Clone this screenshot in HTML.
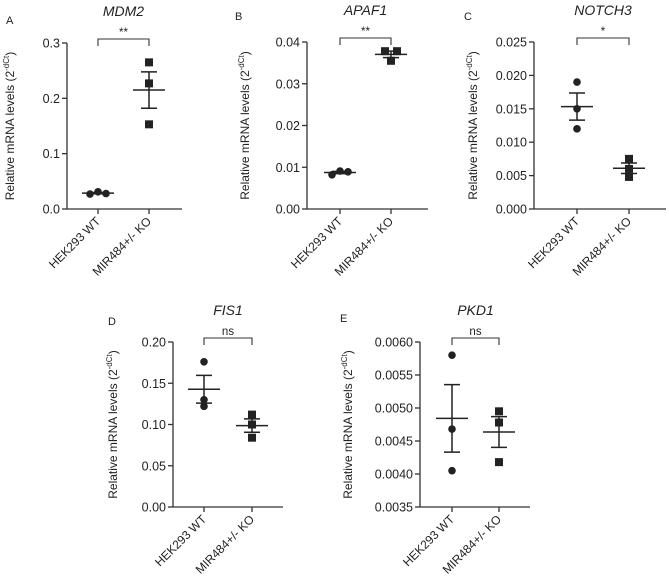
<!DOCTYPE html>
<html><head><meta charset="utf-8"><style>
body{margin:0;background:#fff;}
svg{display:block;font-family:"Liberation Sans",Arial,sans-serif;}
</style></head><body>
<svg id="fig" width="669" height="582" viewBox="0 0 669 582" xmlns="http://www.w3.org/2000/svg"></svg>
<script>
const categories = ["HEK293 WT","MIR484+/- KO"];
const mdm2Wt = [0.027,0.031,0.028], mdm2Ko = [0.265,0.227,0.153];
const apaf1Wt = [0.0082,0.0091,0.0089], apaf1Ko = [0.0378,0.0355,0.0378];
const notch3Wt = [0.019,0.015,0.012], notch3Ko = [0.0075,0.006,0.0048];
const fis1Wt = [0.176,0.130,0.122], fis1Ko = [0.112,0.100,0.084];
const pkd1Wt = [0.0058,0.00468,0.00405], pkd1Ko = [0.00495,0.00478,0.00418];
const mdm2Ticks = ["0.0","0.1","0.2","0.3"];
const apaf1Ticks = ["0.00","0.01","0.02","0.03","0.04"];
const notch3Ticks = ["0.000","0.005","0.010","0.015","0.020","0.025"];
const fis1Ticks = ["0.00","0.05","0.10","0.15","0.20"];
const pkd1Ticks = ["0.0035","0.0040","0.0045","0.0050","0.0055","0.0060"];
const sigLabels = ["**","**","*","ns","ns"];

const svg = document.getElementById('fig');
const NS = "http://www.w3.org/2000/svg";
function mk(tag, attrs, parent){const e=document.createElementNS(NS,tag);for(const k in attrs)e.setAttribute(k,attrs[k]);(parent||svg).appendChild(e);return e;}
function stats(a){const m=a.reduce((s,v)=>s+v,0)/a.length;const sd=Math.sqrt(a.reduce((s,v)=>s+(v-m)*(v-m),0)/(a.length-1));return [m,sd/Math.sqrt(a.length)];}

const panels = [
 {id:"a",letter:"A",title:"MDM2",lx:6,ly:24,ax:67,right:182,top:43,bot:209,c:[98,149],ticks:mdm2Ticks,wt:mdm2Wt,ko:mdm2Ko,yt:14,jw:[-8,0,8],jk:[0,0,0]},
 {id:"b",letter:"B",title:"APAF1",lx:235,ly:20,ax:307,right:428,top:42,bot:209,c:[340,391],ticks:apaf1Ticks,wt:apaf1Wt,ko:apaf1Ko,yt:249,jw:[-8,0,8],jk:[-6,0,6]},
 {id:"c",letter:"C",title:"NOTCH3",lx:464,ly:20,ax:534,right:666,top:42,bot:209,c:[577,629],ticks:notch3Ticks,wt:notch3Wt,ko:notch3Ko,yt:477,jw:[0,0,0],jk:[0,0,0]},
 {id:"d",letter:"D",title:"FIS1",lx:108,ly:325,ax:173,right:283,top:342,bot:507,c:[204,252],ticks:fis1Ticks,wt:fis1Wt,ko:fis1Ko,yt:117,jw:[0,0,0],jk:[0,0,0]},
 {id:"e",letter:"E",title:"PKD1",lx:340,ly:322,ax:420,right:530,top:342,bot:507,c:[452,499],ticks:pkd1Ticks,wt:pkd1Wt,ko:pkd1Ko,yt:352,jw:[0,0,0],jk:[0,0,0]}
];

panels.forEach((p,pi)=>{
  const g = mk('g',{});
  
  
  const tv = p.ticks.map(Number);
  const ymin=tv[0], ymax=tv[tv.length-1];
  const y = v => p.bot - (v-ymin)/(ymax-ymin)*(p.bot-p.top);
  const col="#333";
  const lt = mk('text',{x:p.lx,y:p.ly,'font-size':11,fill:'#222'},g); lt.textContent=p.letter;
  
  
  const tt = mk('text',{x:(p.c[0]+p.c[1])/2,y:p.top-27,'font-size':14,'font-style':'italic','text-anchor':'middle',fill:'#222'},g); tt.textContent=p.title;
  
  
  const ya = mk('line',{x1:p.ax,y1:p.top,x2:p.ax,y2:p.bot,stroke:col,'stroke-width':1.3},g);
  
  
  const xa = mk('line',{x1:p.ax,y1:p.bot,x2:p.right,y2:p.bot,stroke:col,'stroke-width':1.3},g);
  
  
  p.ticks.forEach((t,i)=>{
    const yy=y(tv[i]);
    mk('line',{x1:p.ax-5,y1:yy,x2:p.ax,y2:yy,stroke:col,'stroke-width':1.3},g);
    const tl=mk('text',{x:p.ax-7,y:yy+4.5,'font-size':12.5,'text-anchor':'end',fill:'#222'},g); tl.textContent=t;
    
    
  });
  const ym=(p.top+p.bot)/2;
  const yt=mk('text',{x:p.yt,y:ym,'font-size':12,'text-anchor':'middle',fill:'#222',transform:`rotate(-90 ${p.yt} ${ym})`},g);
  yt.innerHTML='Relative mRNA levels (2<tspan font-size="8" dy="-5">-dCt</tspan><tspan dy="5">)</tspan>';
  
  
  categories.forEach((c,i)=>{
    const cx=p.c[i];
    mk('line',{x1:cx,y1:p.bot,x2:cx,y2:p.bot+5,stroke:col,'stroke-width':1.3},g);
    const cl=mk('text',{x:cx+3,y:p.bot+13,'font-size':12,'text-anchor':'end',fill:'#222',transform:`rotate(-45 ${cx+3} ${p.bot+13})`},g); cl.textContent=c;
    
    
  });
  const by=p.top-4;
  const br=mk('path',{d:`M${p.c[0]},${by+7}V${by}H${p.c[1]}V${by+7}`,fill:'none',stroke:col,'stroke-width':1.1},g);
  
  
  const sl=mk('text',{x:(p.c[0]+p.c[1])/2,y:by-3,'font-size':11.5,'text-anchor':'middle',fill:'#222'},g); sl.textContent=sigLabels[pi];
  
  
  [p.wt,p.ko].forEach((arr,gi)=>{
    const cx=p.c[gi];
    const [m,se]=stats(arr);
    const eb=mk('path',{d:`M${cx-16},${y(m)}H${cx+16}M${cx},${y(m+se)}V${y(m-se)}M${cx-8},${y(m+se)}H${cx+8}M${cx-8},${y(m-se)}H${cx+8}`,stroke:'#222','stroke-width':1.5,fill:'none'},g);
    
    
    arr.forEach((v,k)=>{
      const px=cx+(gi?p.jk[k]:p.jw[k]);
      let pt;
      if(gi===0) pt=mk('circle',{cx:px,cy:y(v),r:3.8,fill:'#222'},g);
      else pt=mk('rect',{x:px-4,y:y(v)-4,width:8,height:8,fill:'#222'},g);
      
      
    });
  });
});
</script>
</body></html>
